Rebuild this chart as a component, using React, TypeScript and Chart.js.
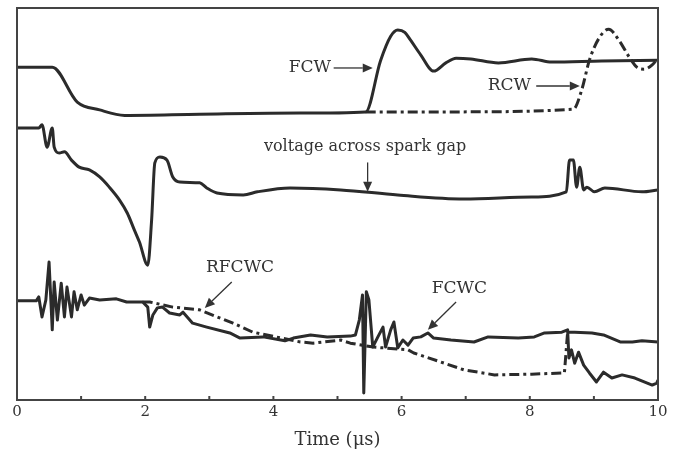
import React, { useEffect, useRef } from "react";
import { Chart, registerables } from "chart.js";

Chart.register(...registerables);

// Time axis (µs)
const xTicks = [0, 2, 4, 6, 8, 10];
const xMinorTicks = [1, 3, 5, 7, 9];

// FCW (solid)
const fcwX = [0, 0.55, 0.94, 1.29, 1.68, 2.85, 4.42, 5.44, 5.67, 5.83, 5.94, 6.05, 6.14, 6.3, 6.5, 6.69, 6.85, 7.08, 7.51, 8.03, 8.34, 9.12, 10];
const fcwY = [84.9, 84.9, 76.0, 74.0, 72.6, 72.9, 73.2, 73.5, 86.5, 92.8, 94.4, 93.8, 91.8, 88.0, 83.9, 86.0, 87.2, 87.0, 86.0, 87.0, 86.2, 86.5, 86.7];

// RCW (dash-dot)
const rcwX = [5.44, 6.77, 8.68, 8.81, 8.93, 9.08, 9.23, 9.39, 9.55, 9.67, 9.78, 9.91, 10];
const rcwY = [73.5, 73.5, 74.2, 79.1, 86.7, 92.3, 94.6, 91.8, 87.5, 84.9, 84.4, 85.5, 87.2];

// voltage across spark gap (solid)
const vX = [0, 0.34, 0.39, 0.47, 0.55, 0.58, 0.66, 0.74, 0.85, 0.97, 1.13, 1.29, 1.44, 1.6, 1.72, 1.83, 1.91, 2.04, 2.1, 2.15, 2.23, 2.34, 2.43, 2.54, 2.85, 2.96, 3.12, 3.53, 3.75, 4.26, 5.05, 5.94, 6.97, 8.03, 8.57, 8.62, 8.68, 8.73, 8.78, 8.84, 8.89, 9.01, 9.17, 9.75, 10];
const vY = [69.4, 69.4, 70.2, 64.5, 69.4, 64.5, 63.0, 63.3, 61.2, 59.4, 58.7, 56.9, 54.3, 51.0, 47.7, 43.4, 40.3, 34.4, 45.9, 60.5, 62.0, 61.2, 56.9, 55.6, 55.4, 54.1, 52.8, 52.3, 53.1, 54.1, 53.6, 52.3, 51.3, 51.8, 53.1, 61.2, 61.2, 54.3, 59.4, 53.6, 54.3, 53.1, 54.1, 53.1, 53.6];

// FCWC (solid)
const fcwcX = [0, 0.3, 0.34, 0.39, 0.45, 0.5, 0.55, 0.58, 0.63, 0.69, 0.74, 0.78, 0.85, 0.89, 0.94, 1.0, 1.05, 1.13, 1.29, 1.55, 1.71, 1.96, 2.04, 2.07, 2.12, 2.19, 2.27, 2.38, 2.54, 2.59, 2.74, 2.96, 3.32, 3.48, 3.84, 4.18, 4.31, 4.58, 4.84, 5.2, 5.28, 5.34, 5.39, 5.41, 5.45, 5.49, 5.55, 5.63, 5.71, 5.75, 5.83, 5.88, 5.94, 6.02, 6.1, 6.18, 6.3, 6.41, 6.5, 6.77, 7.13, 7.35, 7.82, 8.07, 8.23, 8.5, 8.59, 8.61, 8.65, 8.7, 8.76, 8.84, 8.93, 9.04, 9.15, 9.28, 9.44, 9.64, 9.91, 9.98, 10];
const fcwcY = [25.3, 25.3, 26.3, 21.2, 25.5, 35.2, 17.9, 30.1, 20.4, 29.8, 21.2, 28.8, 21.2, 27.6, 23.0, 26.8, 24.2, 26.0, 25.5, 25.8, 25.0, 25.0, 23.7, 18.6, 21.7, 23.5, 23.7, 22.2, 21.7, 22.4, 19.6, 18.6, 17.1, 15.8, 16.1, 15.1, 15.8, 16.6, 16.1, 16.3, 16.6, 20.4, 26.8, 1.8, 27.6, 25.5, 13.5, 16.1, 18.6, 13.5, 17.9, 19.9, 13.3, 15.3, 14.0, 15.8, 16.1, 17.1, 15.8, 15.3, 14.8, 16.1, 15.8, 16.1, 17.1, 17.3, 17.9, 10.7, 12.8, 9.4, 12.2, 8.9, 6.9, 4.6, 7.1, 5.6, 6.4, 5.6, 3.8, 4.3, 5.1];

// RFCWC (dash-dot)
const rfcwcX = [1.96, 2.07, 2.43, 2.85, 3.12, 3.37, 3.68, 4.42, 4.62, 5.05, 5.2, 5.56, 6.1, 6.19, 6.61, 6.97, 7.45, 8.03, 8.54, 8.59, 8.7, 8.97, 9.15, 9.41, 9.6, 9.75, 10];
const rfcwcY = [25.0, 25.0, 23.7, 23.0, 21.2, 19.6, 17.3, 14.8, 14.5, 15.3, 14.5, 13.5, 12.8, 12.0, 9.7, 7.7, 6.4, 6.6, 6.9, 17.3, 17.3, 17.1, 16.6, 14.8, 14.8, 15.1, 14.8];

// Annotations
const labelTexts = ["FCW", "RCW", "voltage across spark gap", "RFCWC", "FCWC"];
const labelAlign = ["right", "right", "center", "center", "center"];
const labelSize = [17, 17, 16, 17, 17];
const labelPos = [
  [4.9, 84.7],
  [8.02, 80.3],
  [5.43, 64.6],
  [3.48, 33.9],
  [6.9, 28.3],
];
const arrowFrom = [
  [4.94, 84.7],
  [8.1, 80.1],
  [5.47, 60.6],
  [3.35, 30.1],
  [6.85, 25.0],
];
const arrowTo = [
  [5.55, 84.7],
  [8.78, 80.1],
  [5.47, 53.1],
  [2.93, 23.5],
  [6.41, 17.9],
];

const LINE = "#2b2b2b";
const DASH = [10, 4, 3, 4];
const FONT = '"DejaVu Serif", serif';

const toPts = (xs: number[], ys: number[]) => xs.map((x, i) => ({ x, y: ys[i] }));

const decoPlugin = {
  id: "deco",
  afterDatasetsDraw(chart: any) {
    const { ctx, chartArea } = chart;
    const xs = chart.scales.x;
    const ys = chart.scales.y;
    ctx.save();
    ctx.strokeStyle = "#444";
    ctx.lineWidth = 2;
    ctx.strokeRect(chartArea.left, chartArea.top, chartArea.right - chartArea.left, chartArea.bottom - chartArea.top);
    [...xTicks, ...xMinorTicks].forEach((t) => {
      const px = xs.getPixelForValue(t);
      ctx.beginPath();
      ctx.moveTo(px, chartArea.bottom);
      ctx.lineTo(px, chartArea.bottom - 4);
      ctx.stroke();
    });
    ctx.fillStyle = "#333";
    ctx.textBaseline = "middle";
    labelTexts.forEach((t, i) => {
      ctx.font = `${labelSize[i]}px ${FONT}`;
      ctx.textAlign = labelAlign[i];
      ctx.fillText(t, xs.getPixelForValue(labelPos[i][0]), ys.getPixelForValue(labelPos[i][1]));
      const x1 = xs.getPixelForValue(arrowFrom[i][0]);
      const y1 = ys.getPixelForValue(arrowFrom[i][1]);
      const x2 = xs.getPixelForValue(arrowTo[i][0]);
      const y2 = ys.getPixelForValue(arrowTo[i][1]);
      const ang = Math.atan2(y2 - y1, x2 - x1);
      const hl = 10;
      const hw = 4.5;
      const bx = x2 - hl * Math.cos(ang);
      const by = y2 - hl * Math.sin(ang);
      ctx.strokeStyle = "#333";
      ctx.lineWidth = 1.3;
      ctx.beginPath();
      ctx.moveTo(x1, y1);
      ctx.lineTo(bx, by);
      ctx.stroke();
      ctx.beginPath();
      ctx.moveTo(x2, y2);
      ctx.lineTo(bx + hw * Math.sin(ang), by - hw * Math.cos(ang));
      ctx.lineTo(bx - hw * Math.sin(ang), by + hw * Math.cos(ang));
      ctx.closePath();
      ctx.fill();
    });
    ctx.restore();
  },
};

export default function App() {
  const ref = useRef<HTMLCanvasElement>(null);
  useEffect(() => {
    if (!ref.current) return;
    const line = (data: any, smooth = false) => ({
      data,
      borderColor: LINE,
      borderWidth: 3,
      pointRadius: 0,
      tension: 0,
      cubicInterpolationMode: smooth ? "monotone" : "default",
      borderJoinStyle: "round",
      fill: false,
    });
    const chart = new Chart(ref.current, {
      type: "line",
      data: {
        datasets: [
          { label: "FCW", ...line(toPts(fcwX, fcwY), true) },
          { label: "RCW", ...line(toPts(rcwX, rcwY), true), borderDash: DASH },
          { label: "voltage across spark gap", ...line(toPts(vX, vY), true) },
          { label: "FCWC", ...line(toPts(fcwcX, fcwcY)) },
          {
            label: "RFCWC",
            ...line(toPts(rfcwcX, rfcwcY)),
            segment: {
              borderDash: (c: any) => (c.p0.parsed.x >= 8.58 ? [] : DASH),
            },
          },
        ],
      },
      options: {
        animation: false,
        responsive: false,
        maintainAspectRatio: false,
        layout: { padding: { left: 17, right: 16, top: 8, bottom: 0 } },
        plugins: { legend: { display: false }, tooltip: { enabled: false } },
        scales: {
          x: {
            type: "linear",
            min: 0,
            max: 10,
            grid: { display: false, drawTicks: false },
            border: { display: false },
            ticks: {
              stepSize: 2,
              padding: 3,
              color: "#333",
              font: { family: FONT, size: 15 },
            },
            title: {
              display: true,
              text: "Time (μs)",
              color: "#333",
              font: { family: FONT, size: 18 },
              padding: { top: 0, bottom: 4 },
            },
            afterFit: (s: any) => {
              s.height = 55;
            },
          },
          y: { type: "linear", min: 0, max: 100, display: false },
        },
      },
      plugins: [decoPlugin],
    });
    return () => chart.destroy();
  }, []);
  return (
    <div style={{ position: "fixed", left: 0, top: 0, width: 674, height: 455, background: "#fff" }}>
      <canvas ref={ref} width={674} height={455} style={{ width: 674, height: 455 }} />
    </div>
  );
}
